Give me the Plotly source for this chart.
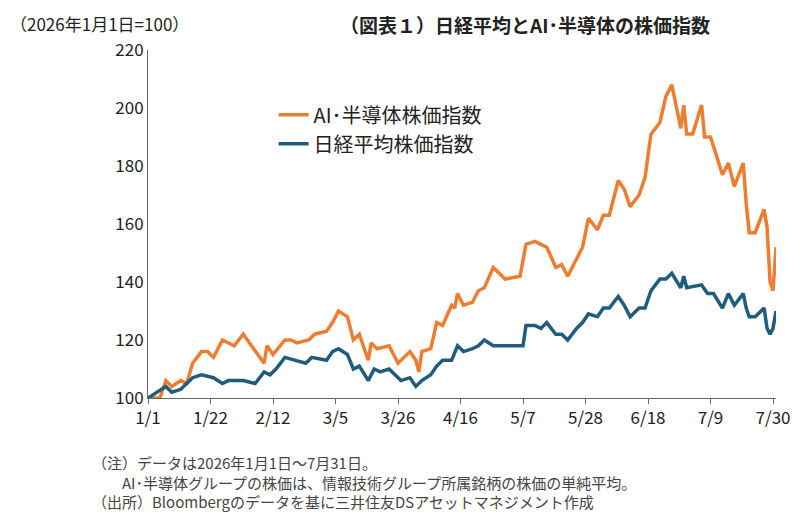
import plotly.graph_objects as go

ai_dates = ["01-01","01-05","01-07","01-09","01-12","01-14","01-16","01-19","01-21","01-23","01-26","01-28","01-30",
            "02-02","02-04","02-06","02-09","02-10","02-12","02-16","02-18","02-20","02-24","02-26",
            "03-02","03-04","03-06","03-09","03-11","03-13","03-16","03-17","03-19","03-23","03-24","03-26","03-30",
            "04-01","04-02","04-03","04-06","04-08","04-10","04-13","04-14","04-15","04-17","04-20","04-22","04-24","04-27","04-29",
            "05-01","05-06","05-08","05-11","05-13","05-15","05-18","05-20","05-22","05-25","05-27","05-29",
            "06-01","06-03","06-05","06-08","06-10","06-12","06-15","06-17","06-19","06-22","06-24","06-26","06-29","06-30",
            "07-01","07-03","07-06","07-07","07-09","07-13","07-15","07-17","07-20","07-21","07-22","07-24","07-27","07-28","07-29","07-30","07-31"]
ai_vals = [100,100,106,104,106,105,112,116,116,114,120,119,118,
           122,119,116,112,118,115,120,120,119,120,122,
           123,126,130,128,120,122,113,119,117,118,116,112,116,
           113,109,116,117,126,125,132,131,136,132,133,137,138,145,143,
           141,142,153,154,153,152,145,146,142,148,152,162,
           158,163,163,175,172,166,170,176,191,195,204,208,193,201,
           191,191,201,190,190,177,181,173,181,167,157,157,165,159,140,137,152]

nk_dates = ["01-01","01-07","01-09","01-12","01-16","01-19","01-23","01-26","01-28",
            "02-02","02-06","02-09","02-11","02-13","02-16","02-20","02-23","02-25",
            "03-02","03-04","03-06","03-09","03-11","03-13","03-16","03-18","03-20","03-23","03-25","03-27","03-30",
            "04-01","04-03","04-06","04-08","04-10","04-13","04-15","04-17","04-20","04-22","04-24","04-27",
            "05-01","05-07","05-08","05-11","05-13","05-15","05-18","05-20","05-22","05-25","05-27","05-29",
            "06-01","06-03","06-05","06-08","06-10","06-12","06-15","06-17","06-19","06-22","06-24","06-26","06-29","06-30",
            "07-01","07-06","07-08","07-10","07-13","07-15","07-17","07-20","07-21","07-22","07-24","07-27","07-28","07-29","07-30","07-31"]
nk_vals = [100,104,102,103,107,108,107,105,106,
           106,105,109,108,110,114,113,112,114,
           113,116,117,115,110,111,106,110,109,110,108,106,107,
           104,106,108,111,113,113,118,116,117,118,120,118,
           118,118,125,125,124,126,122,122,120,124,126,129,
           128,131,131,135,132,128,131,131,137,141,141,143,138,142,
           138,139,136,136,131,136,132,136,131,128,128,131,124,122,124,130]

tick_dates = ["01-01","01-22","02-12","03-05","03-26","04-16","05-07","05-28","06-18","07-09","07-30"]
tick_labels = ["1/1","1/22","2/12","3/5","3/26","4/16","5/7","5/28","6/18","7/9","7/30"]

def d(lst):
    return ["2026-" + s for s in lst]

font = "Noto Sans CJK JP"
fig = go.Figure()
fig.add_trace(go.Scatter(x=d(ai_dates), y=ai_vals, mode="lines",
                         name="AI･半導体株価指数", line=dict(color="#ED7D31", width=3.5)))
fig.add_trace(go.Scatter(x=d(nk_dates), y=nk_vals, mode="lines",
                         name="日経平均株価指数", line=dict(color="#1F5C7E", width=3.5)))

fig.update_layout(
    width=807, height=521, margin=dict(l=140, r=39, t=42, b=131),
    plot_bgcolor="white", paper_bgcolor="white",
    font=dict(family=font, size=15, color="#222"),
    legend=dict(x=0.2, y=0.87, xanchor="left", yanchor="top", font=dict(size=20),
                bgcolor="rgba(0,0,0,0)", tracegroupgap=8),
    xaxis=dict(range=["2026-01-01", "2026-07-31"], tickvals=d(tick_dates), ticktext=tick_labels,
               showline=True, linecolor="#666", ticks="outside", ticklen=5, tickcolor="#666",
               showgrid=False, tickfont=dict(size=17)),
    yaxis=dict(range=[100, 220], dtick=20, showline=True, linecolor="#666", ticks="",
               showgrid=False, tickfont=dict(size=17)),
)
fig.add_annotation(text="（2026年1月1日=100）", x=0, y=1, xref="paper", yref="paper",
                   xshift=-140, yshift=12, xanchor="left", yanchor="bottom", showarrow=False, font=dict(size=17))
fig.add_annotation(text="<b>（図表１）日経平均とAI･半導体の株価指数</b>", x=0.6, y=1, xref="paper", yref="paper",
                   yshift=10, xanchor="center", yanchor="bottom", showarrow=False, font=dict(size=19))
notes = ("（注）データは2026年1月1日～7月31日。<br>"
         "　　AI･半導体グループの株価は、情報技術グループ所属銘柄の株価の単純平均。<br>"
         "（出所）Bloombergのデータを基に三井住友DSアセットマネジメント作成")
fig.add_annotation(text=notes, x=0, y=0, xref="paper", yref="paper", xshift=-58, yshift=-52,
                   xanchor="left", yanchor="top", align="left", showarrow=False,
                   font=dict(size=15, color="#444"))
fig.write_html("out.html")
